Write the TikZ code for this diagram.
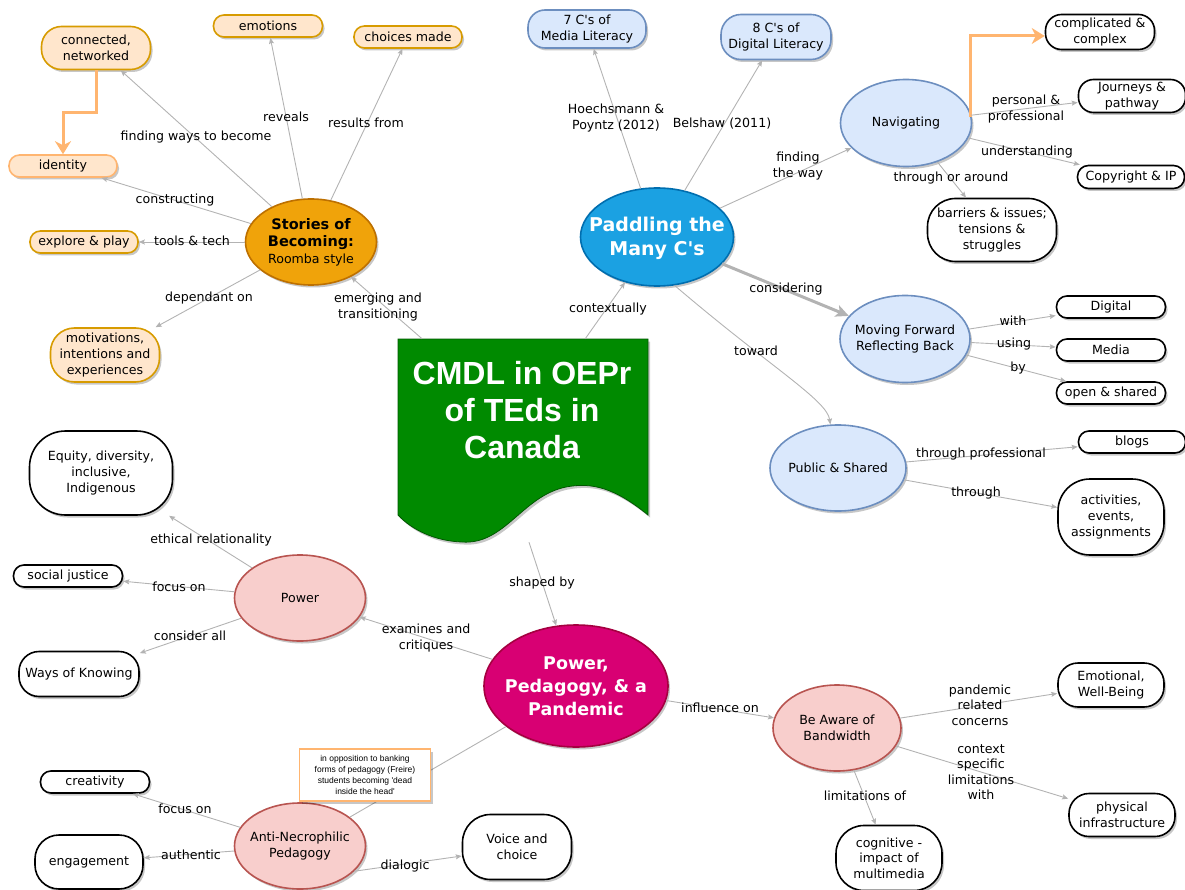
\documentclass[tikz,border=0pt]{standalone}
\usepackage{fontspec}
\defaultfontfeatures[\rmfamily,\sffamily]{}
\setmainfont{DejaVu Sans}
\newfontfamily\arialfont{Liberation Sans}
\usetikzlibrary{shapes.geometric,arrows.meta,shadows}
\definecolor{orfill}{HTML}{FFE6CC}
\definecolor{orline}{HTML}{D79B00}
\definecolor{orlight}{HTML}{FFB570}
\definecolor{blfill}{HTML}{DAE8FC}
\definecolor{blline}{HTML}{6C8EBF}
\definecolor{rdfill}{HTML}{F8CECC}
\definecolor{rdline}{HTML}{B85450}
\definecolor{storfill}{HTML}{F0A30A}
\definecolor{storline}{HTML}{BD7000}
\definecolor{padfill}{HTML}{1BA1E2}
\definecolor{padline}{HTML}{006EAF}
\definecolor{panfill}{HTML}{D80073}
\definecolor{panline}{HTML}{A50040}
\definecolor{grfill}{HTML}{008A00}
\definecolor{grline}{HTML}{005700}
\definecolor{edgegray}{HTML}{B3B3B3}
\tikzset{
  base/.style={font=\fontsize{12.6}{15.6}\selectfont, align=center, inner sep=0pt},
  shad/.style={drop shadow={shadow xshift=2pt,shadow yshift=-2.5pt,opacity=0.22,fill=black}},
  pill/.style n args={3}{minimum width=#1pt, minimum height=#2pt, rounded corners=#3pt},
  orbox/.style={base, draw=orline, fill=orfill, line width=1.6pt, shad},
  idbox/.style={base, draw=orlight, fill=orfill, line width=1.6pt, shad},
  bluebox/.style={base, draw=blline, fill=blfill, line width=1.6pt, shad},
  wbox/.style={base, draw=black, fill=white, line width=1.6pt, shad},
  ell/.style n args={4}{ellipse, minimum width=#1pt, minimum height=#2pt, inner sep=0pt, fill=#3, draw=#4, line width=1.6pt, shad},
  lbl/.style={base, inner sep=1pt},
  edge/.style={draw=edgegray, line width=0.9pt, -{Stealth[length=6pt,width=5pt,inset=1pt]}},
  plainedge/.style={draw=edgegray, line width=0.9pt},
  bigedge/.style={draw=edgegray, line width=3pt, -{Stealth[length=13pt,width=12pt,inset=3pt]}},
  oredge/.style={draw=orlight, line width=3pt, -{Stealth[length=13pt,width=16pt,inset=4pt]}},
  boldwhite/.style={base, text=white, font=\fontsize{19}{24.3}\selectfont\bfseries},
}
\begin{document}
\begin{tikzpicture}[x=1pt,y=-1pt]
\useasboundingbox (0,0) rectangle (1185,890);

% ---------- central document shape ----------
\path[fill=grfill, draw=grline, line width=0.8pt, shad]
  (398,339) -- (648,339) -- (648,515)
  .. controls (615,488) and (592,482) .. (566,487)
  .. controls (522,496) and (505,545) .. (462,542)
  .. controls (435,541) and (412,530) .. (398,515) -- cycle;
\node[minimum width=250pt, minimum height=176pt, inner sep=0pt] (cmdl) at (523,427) {};
\node[align=center, inner sep=0pt, text=white, font=\arialfont\bfseries\fontsize{32}{37}\selectfont] (cmdlT) at (522,410) {CMDL in OEPr\\of TEds in\\Canada};

% ---------- Stories of Becoming ----------
\node[orbox, pill={109}{43}{20}] (conn) at (96,48) {connected,\\networked};
\node[orbox, pill={109}{22}{10.5}] (emo) at (268,26) {emotions};
\node[orbox, pill={108}{22}{10.5}] (choice) at (408,37) {choices made};
\node[idbox, pill={108}{22}{10.5}] (ident) at (63,166) {identity};
\node[orbox, pill={108}{22}{10.5}] (explore) at (84,242) {explore \& play};
\node[orbox, pill={109}{54}{24}] (motiv) at (105,355) {motivations,\\intentions and\\experiences};
\node[ell={131}{86}{storfill}{storline}] (stor) at (311,242) {};
\node[base, font=\fontsize{14.5}{17}\selectfont\bfseries] (storT) at (311,242) {Stories of\\Becoming:\\{\mdseries\fontsize{12.6}{17}\selectfont Roomba style}};

% ---------- Paddling ----------
\node[bluebox, pill={118}{38}{17}] (c7) at (587,29) {7 C's of\\Media Literacy};
\node[bluebox, pill={110}{45}{20}] (c8) at (776,37) {8 C's of\\Digital Literacy};
\node[ell={153}{98}{padfill}{padline}] (padd) at (657,237) {};
\node[boldwhite] (paddT) at (657,238) {Paddling the\\Many C's};

\node[ell={131}{87}{blfill}{blline}] (nav) at (906,123) {};
\node[base] (navT) at (906,123) {Navigating};
\node[ell={130}{87}{blfill}{blline}] (mov) at (905,339) {};
\node[base] (movT) at (905,339) {Moving Forward\\Reflecting Back};
\node[ell={136}{86}{blfill}{blline}] (pub) at (838,468) {};
\node[base] (pubT) at (838,468) {Public \& Shared};

\node[wbox, pill={109}{35}{16}] (comp) at (1100,32) {complicated \&\\complex};
\node[wbox, pill={107}{33}{15}] (journ) at (1132,96) {Journeys \&\\pathway};
\node[wbox, pill={107}{23}{11}] (copy) at (1131,177) {Copyright \& IP};
\node[wbox, pill={129}{63}{28}] (barr) at (992,230) {barriers \& issues;\\tensions \&\\struggles};
\node[wbox, pill={109}{22}{10.5}] (dig) at (1111,307) {Digital};
\node[wbox, pill={109}{22}{10.5}] (media) at (1111,350) {Media};
\node[wbox, pill={109}{22}{10.5}] (open) at (1111,393) {open \& shared};
\node[wbox, pill={107}{22}{10.5}] (blogs) at (1132,442) {blogs};
\node[wbox, pill={106}{76}{32}] (activ) at (1111,517) {activities,\\events,\\assignments};

% ---------- Pandemic ----------
\node[ell={184}{122}{panfill}{panline}] (pand) at (576,686) {};
\node[boldwhite, font=\fontsize{17.5}{23}\selectfont\bfseries] (pandT) at (576,686) {Power,\\Pedagogy, \& a\\Pandemic};

\node[ell={128}{86}{rdfill}{rdline}] (band) at (837,728) {};
\node[base] (bandT) at (837,728) {Be Aware of\\Bandwidth};
\node[wbox, pill={106}{44}{20}] (emot) at (1111,685) {Emotional,\\Well-Being};
\node[wbox, pill={106}{43}{20}] (phys) at (1122,815) {physical\\infrastructure};
\node[wbox, pill={106}{65}{28}] (cogn) at (889,858) {cognitive -\\impact of\\multimedia};

\node[ell={131}{86}{rdfill}{rdline}] (power) at (300,598) {};
\node[base] (powerT) at (300,598) {Power};
\node[wbox, pill={143}{84}{36}] (equity) at (101,473) {Equity, diversity,\\inclusive,\\Indigenous};
\node[wbox, pill={109}{22}{10.5}] (socj) at (68,576) {social justice};
\node[wbox, pill={120}{45}{20}] (ways) at (79,674) {Ways of Knowing};

\node[ell={131}{86}{rdfill}{rdline}] (anti) at (300,846) {};
\node[base] (antiT) at (300,846) {Anti-Necrophilic\\Pedagogy};
\node[wbox, pill={109}{22}{10.5}] (creat) at (95,782) {creativity};
\node[wbox, pill={108}{54}{24}] (engage) at (89,862) {engagement};
\node[wbox, pill={109}{65}{28}] (voice) at (517,847) {Voice and\\choice};

% ---------- connectors ----------
\draw[edge] (stor) -- (conn);
\draw[edge] (stor) -- (emo);
\draw[edge] (stor) -- (choice);
\draw[edge] (stor) -- (ident);
\draw[edge] (stor) -- (explore);
\draw[edge] (stor) -- (motiv);
\draw[edge] (cmdl) -- (stor);
\draw[oredge] (conn.south) -- ++(0,42) -| (ident.north);

\draw[edge] (padd) -- (c7);
\draw[edge] (padd) -- (c8);
\draw[edge] (padd) -- (nav);
\draw[edge] (cmdl) -- (padd);
\draw[bigedge] (padd) -- (mov);
\draw[edge] (padd.-70) .. controls (770,367) and (827,400) .. (pub.100);

\draw[oredge] ([xshift=-1.5pt,yshift=6pt]nav.east) |- ([yshift=-4pt]comp.west);
\draw[edge] (nav) -- (journ);
\draw[edge] (nav) -- (copy);
\draw[edge] (nav) -- (barr);
\draw[edge] (mov) -- (dig);
\draw[edge] (mov) -- (media);
\draw[edge] (mov) -- (open);
\draw[edge] (pub) -- (blogs);
\draw[edge] (pub) -- (activ);

\draw[edge] ([shift={(6,27)}]cmdl.south) -- (pand);
\draw[edge] (pand) -- (band);
\draw[edge] (band) -- (emot);
\draw[edge] (band) -- (phys);
\draw[edge] (band) -- (cogn);
\draw[edge] (pand) -- (power);
\draw[edge] (power) -- (equity);
\draw[edge] (power) -- (socj);
\draw[edge] (power) -- (ways);
\draw[plainedge] (pand) -- (anti);
\draw[edge] (anti) -- (creat);
\draw[edge] (anti) -- (engage);
\draw[edge] (anti.-25) -- ([yshift=-9pt]voice.west);

% ---------- note ----------
\node[draw=orlight, fill=white, line width=1.4pt, minimum width=131pt, minimum height=52pt, inner sep=0pt, align=center, font=\arialfont\fontsize{8.5}{11.3}\selectfont, shad] (note) at (365,775) {in opposition to banking\\forms of pedagogy (Freire)\\students becoming 'dead\\inside the head'};

% ---------- linking phrases ----------
\node[lbl] (l1) at (196,137) {finding ways to become};
\node[lbl] (l2) at (286,117) {reveals};
\node[lbl] (l3) at (366,123) {results from};
\node[lbl] (l4) at (175,200) {constructing};
\node[lbl] (l5) at (192,241) {tools \& tech};
\node[lbl] (l6) at (209,298) {dependant on};
\node[lbl] (l7) at (378,307) {emerging and\\transitioning};
\node[lbl] (l8) at (616,118) {Hoechsmann \&\\Poyntz (2012)};
\node[lbl] (l9) at (722,124) {Belshaw (2011)};
\node[lbl] (l10) at (798,166) {finding\\the way};
\node[lbl] (l11) at (608,309) {contextually};
\node[lbl] (l12) at (786,289) {considering};
\node[lbl] (l13) at (756,351) {toward};
\node[lbl] (l14) at (1026,109) {personal \&\\professional};
\node[lbl] (l15) at (1027,152) {understanding};
\node[lbl] (l16) at (951,178) {through or around};
\node[lbl] (l17) at (1013,321) {with};
\node[lbl] (l18) at (1014,344) {using};
\node[lbl] (l19) at (1018,368) {by};
\node[lbl] (l20) at (981,454) {through professional};
\node[lbl] (l21) at (976,493) {through};
\node[lbl] (l22) at (720,708) {influence on};
\node[lbl] (l23) at (980,705) {pandemic\\related\\concerns};
\node[lbl] (l24) at (981,772) {context\\specific\\limitations\\with};
\node[lbl] (l25) at (865,796) {limitations of};
\node[lbl] (l26) at (211,540) {ethical relationality};
\node[lbl] (l27) at (179,587) {focus on};
\node[lbl] (l28) at (190,636) {consider all};
\node[lbl] (l29) at (426,638) {examines and\\critiques};
\node[lbl] (l30) at (542,583) {shaped by};
\node[lbl] (l31) at (185,809) {focus on};
\node[lbl] (l32) at (191,855) {authentic};
\node[lbl] (l33) at (405,866) {dialogic};
\end{tikzpicture}
\end{document}
